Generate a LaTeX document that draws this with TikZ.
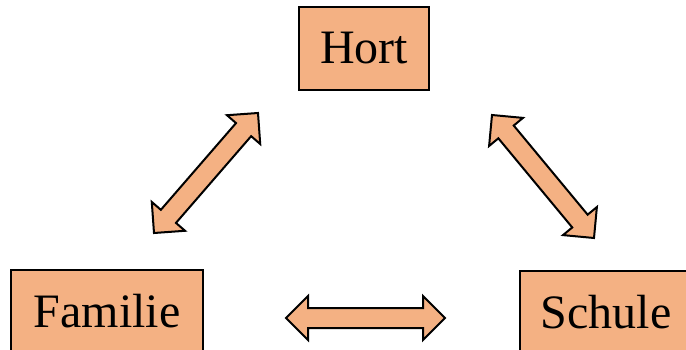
\documentclass[tikz,border=0pt]{standalone}
\usepackage{fontspec}
\setmainfont{Liberation Serif}
\usetikzlibrary{calc}
\definecolor{peach}{HTML}{F4B183}
\tikzset{
  box/.style={draw=black, line width=1.5pt, fill=peach, inner sep=0pt, font=\fontsize{48}{58}\selectfont},
  blockarrow/.style={draw=black, line width=2pt, fill=peach, line join=miter,
    to path={let \p1=($(\tikztotarget)-(\tikztostart)$), \n1={atan2(\y1,\x1)} in
      (\tikztostart)
      -- ($(\tikztostart)+(\n1:22pt)+(\n1+90:22pt)$)
      -- ($(\tikztostart)+(\n1:22pt)+(\n1+90:10pt)$)
      -- ($(\tikztotarget)+(\n1+180:22pt)+(\n1+90:10pt)$)
      -- ($(\tikztotarget)+(\n1+180:22pt)+(\n1+90:22pt)$)
      -- (\tikztotarget)
      -- ($(\tikztotarget)+(\n1+180:22pt)+(\n1-90:22pt)$)
      -- ($(\tikztotarget)+(\n1+180:22pt)+(\n1-90:10pt)$)
      -- ($(\tikztostart)+(\n1:22pt)+(\n1-90:10pt)$)
      -- ($(\tikztostart)+(\n1:22pt)+(\n1-90:22pt)$)
      -- cycle}}
}
\begin{document}
\begin{tikzpicture}[x=1pt,y=-1pt]
  \useasboundingbox (0,0) rectangle (686,350);
  \clip (0,0) rectangle (686,350);
  \node[box, minimum width=130pt, minimum height=83pt] (hort) at (364,48.5) {Hort};
  \node[box, minimum width=192pt, minimum height=83pt] (familie) at (107,311.5) {Familie};
  \node[box, minimum width=172pt, minimum height=83pt] (schule) at (606,312.5) {Schule};
  \coordinate (fh) at (154,233);
  \coordinate (hf) at (258,113);
  \coordinate (hs) at (492,115);
  \coordinate (sh) at (594,238);
  \coordinate (fs) at (286,318);
  \coordinate (sf) at (445,318);
  \draw[blockarrow] (fh) to (hf);
  \draw[blockarrow] (hs) to (sh);
  \draw[blockarrow] (fs) to (sf);
\end{tikzpicture}
\end{document}
